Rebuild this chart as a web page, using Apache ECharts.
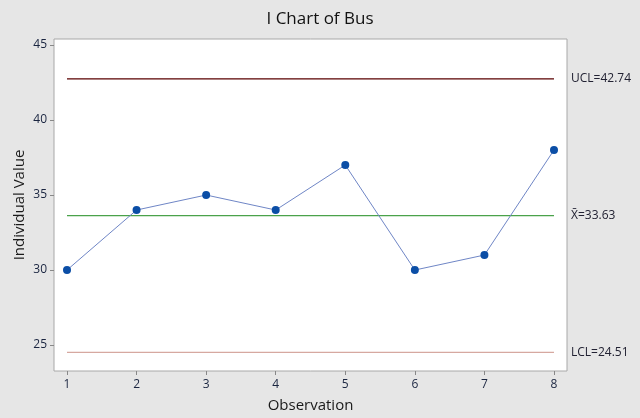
<!DOCTYPE html>
<html>
<head>
<meta charset="utf-8">
<script src="https://cdn.jsdelivr.net/npm/echarts@6/dist/echarts.min.js"></script>
<style>
html,body{margin:0;padding:0;background:#e6e6e6;}
#chart{width:640px;height:418px;}
</style>
</head>
<body>
<div id="chart"></div>
<script>
const observations = [1, 2, 3, 4, 5, 6, 7, 8];
const values = [30, 34, 35, 34, 37, 30, 31, 38];
const yTicks = [25, 30, 35, 40, 45];
const UCL = 42.74;
const MEAN = 33.63;
const LCL = 24.51;
const limitLabels = ['UCL=42.74', 'X\u0304=33.63', 'LCL=24.51'];

const font = '"Open Sans", "Noto Sans", sans-serif';
const chart = echarts.init(document.getElementById('chart'));

function limitSeries(y, color, label) {
  return {
    type: 'line',
    silent: true,
    symbol: 'none',
    data: [[observations[0], y], [observations[observations.length - 1], y]],
    lineStyle: { color: color, width: 1.2 },
    itemStyle: { color: color },
    z: 1,
    endLabel: {
      show: true, formatter: label, distance: 17,
      color: '#222233', fontSize: 12, fontFamily: font
    }
  };
}

chart.setOption({
  backgroundColor: '#e6e6e6',
  animation: false,
  title: {
    text: 'I Chart of Bus',
    left: 'center',
    top: 6,
    textStyle: { fontFamily: font, fontSize: 17, fontWeight: 'normal', color: '#111' }
  },
  grid: {
    left: 54, right: 73, top: 39, bottom: 47,
    outerBoundsMode: 'none',
    containLabel: false,
    show: true, backgroundColor: '#ffffff', borderColor: '#a8a8a8', borderWidth: 1
  },
  xAxis: {
    type: 'value',
    min: 0.813, max: 8.187,
    name: 'Observation',
    nameLocation: 'middle',
    nameGap: 27,
    nameMoveOverlap: false,
    nameTextStyle: { fontFamily: font, fontSize: 15, color: '#1a1a1a' },
    axisLine: { show: false },
    splitLine: { show: false },
    axisTick: { show: true, customValues: observations, length: 4, lineStyle: { color: '#888' } },
    axisLabel: { customValues: observations, fontFamily: font, fontSize: 12, color: '#1a2540', margin: 8 }
  },
  yAxis: {
    type: 'value',
    min: 23.27, max: 45.4,
    name: 'Individual Value',
    nameLocation: 'middle',
    nameGap: 27,
    nameMoveOverlap: false,
    nameTextStyle: { fontFamily: font, fontSize: 15, color: '#1a1a1a' },
    axisLine: { show: false },
    splitLine: { show: false },
    axisTick: { show: true, customValues: yTicks, length: 4, lineStyle: { color: '#888' } },
    axisLabel: { customValues: yTicks, fontFamily: font, fontSize: 12, color: '#1a2540', margin: 7 }
  },
  series: [
    limitSeries(UCL, '#5a0000', limitLabels[0]),
    limitSeries(MEAN, '#4aa24a', limitLabels[1]),
    limitSeries(LCL, '#d6a8a0', limitLabels[2]),
    {
      type: 'line',
      data: observations.map((o, i) => [o, values[i]]),
      symbol: 'circle',
      symbolSize: 8,
      itemStyle: { color: '#0b4ea6' },
      lineStyle: { color: '#6f86c6', width: 1 },
      z: 3
    }
  ]
});
</script>
</body>
</html>
